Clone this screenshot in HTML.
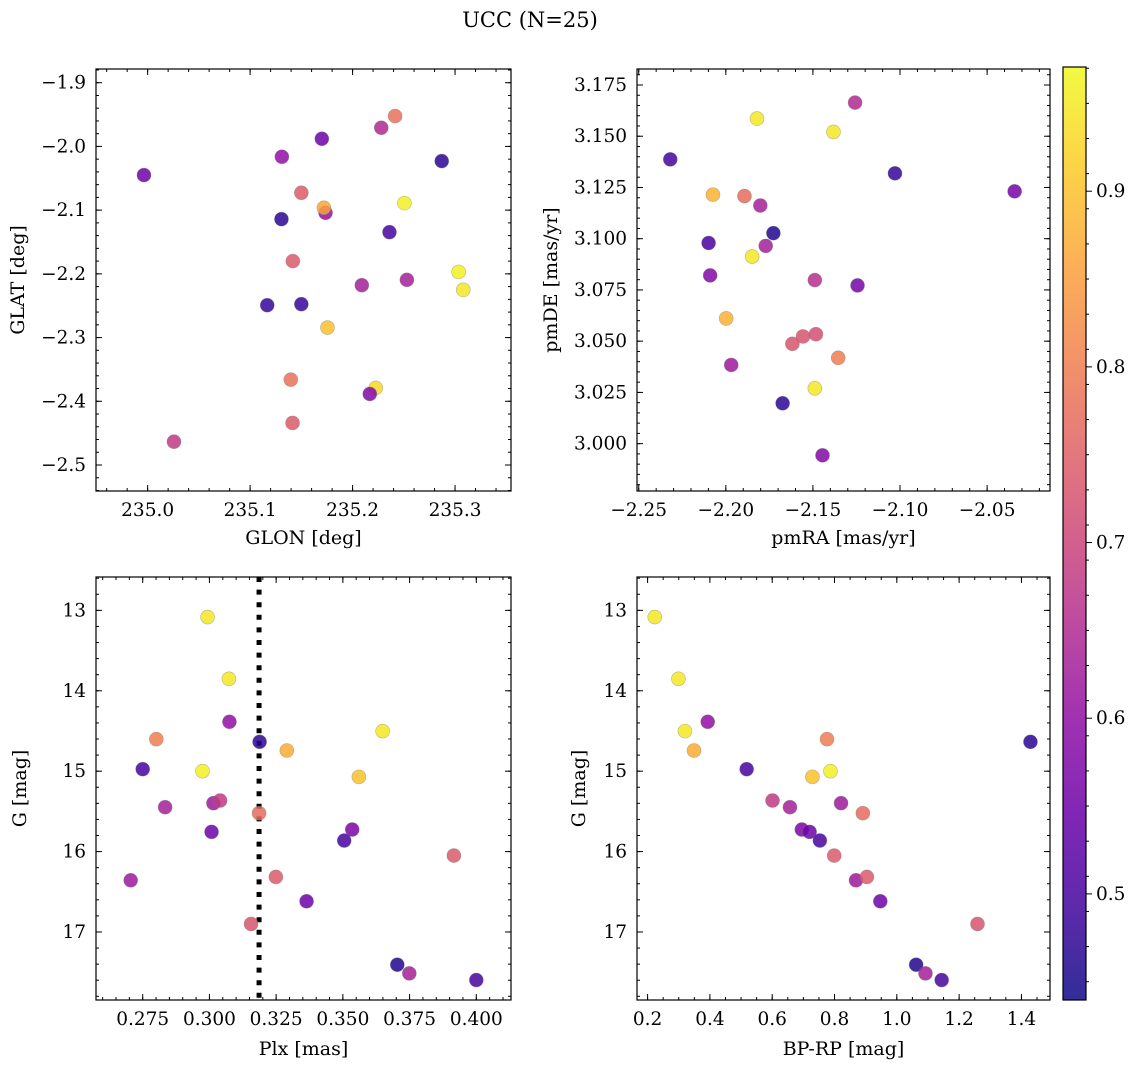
<!DOCTYPE html>
<html><head><meta charset="utf-8">
<style>
html,body{margin:0;padding:0;background:#fff;}
svg{display:block;font-family:"DejaVu Serif","Liberation Serif",serif;}
</style></head>
<body>
<svg id="fig" width="1136" height="1067" viewBox="0 0 1136 1067" xmlns="http://www.w3.org/2000/svg">
<text x="530" y="27" font-size="21" text-anchor="middle">UCC (N=25)</text>
</svg>
<script>
// ---- data ----
const glon = [234.9964,235.0257,235.131,235.170,235.228,235.2415,235.287,235.150,235.1736,235.172,235.2506,235.1306,235.236,235.1417,235.3035,235.308,235.209,235.253,235.1167,235.150,235.1755,235.1397,235.2226,235.2168,235.1414];
const glat = [-2.045,-2.4634,-2.0162,-1.988,-1.9707,-1.9524,-2.023,-2.0728,-2.1042,-2.0963,-2.089,-2.1141,-2.1346,-2.180,-2.1969,-2.2251,-2.2178,-2.2094,-2.2492,-2.2476,-2.2843,-2.366,-2.379,-2.3885,-2.434];
const probTL = [0.55,0.68,0.60,0.55,0.65,0.78,0.47,0.74,0.60,0.86,0.96,0.47,0.50,0.74,0.96,0.95,0.63,0.63,0.48,0.48,0.90,0.78,0.93,0.58,0.74];

const pmra = [-2.2319,-2.1821,-2.1382,-2.1258,-2.1029,-2.0342,-2.2074,-2.1893,-2.1802,-2.1727,-2.2099,-2.1771,-2.1849,-2.209,-2.1489,-2.1244,-2.1998,-2.1618,-2.1557,-2.1483,-2.1355,-2.1969,-2.1489,-2.1674,-2.1445];
const pmde = [3.1387,3.1586,3.1521,3.1664,3.1319,3.1231,3.1215,3.1208,3.1162,3.1027,3.0979,3.0965,3.0913,3.0821,3.0798,3.0772,3.0611,3.0487,3.0523,3.0534,3.0419,3.0384,3.0270,3.0197,2.9943];
const probTR = [0.50,0.95,0.95,0.65,0.48,0.56,0.88,0.77,0.63,0.46,0.50,0.63,0.95,0.58,0.66,0.56,0.88,0.73,0.73,0.72,0.80,0.62,0.95,0.47,0.58];

const plx = [0.2993,0.3073,0.3075,0.2801,0.3188,0.3290,0.3649,0.2750,0.2974,0.3560,0.2834,0.3015,0.3040,0.3186,0.3008,0.3535,0.3505,0.3916,0.2705,0.3249,0.3364,0.3156,0.3704,0.3749,0.4000];
const gmagBL = [13.083,13.851,14.386,14.602,14.635,14.743,14.502,14.975,15.000,15.071,15.448,15.398,15.365,15.523,15.755,15.726,15.863,16.050,16.357,16.315,16.618,16.900,17.407,17.515,17.598];
const probBL = [0.95,0.95,0.60,0.80,0.47,0.87,0.95,0.50,0.96,0.90,0.63,0.62,0.68,0.77,0.55,0.57,0.50,0.74,0.62,0.74,0.55,0.73,0.46,0.63,0.50];
const plxMedian = [0.3186];

const bprp = [0.223,0.299,0.393,0.320,0.349,0.776,1.429,0.518,0.787,0.729,0.601,0.657,0.821,0.891,0.695,0.720,0.753,0.799,0.869,0.904,0.947,1.259,1.062,1.092,1.144];
const gmagBR = [13.083,13.851,14.386,14.502,14.743,14.602,14.635,14.975,15.000,15.071,15.365,15.448,15.398,15.523,15.726,15.755,15.863,16.050,16.357,16.315,16.618,16.900,17.407,17.515,17.598];
const probBR = [0.95,0.95,0.60,0.95,0.87,0.80,0.47,0.50,0.96,0.90,0.68,0.63,0.62,0.77,0.57,0.55,0.50,0.74,0.62,0.74,0.55,0.73,0.46,0.63,0.50];

const cbTicks = [0.5,0.6,0.7,0.8,0.9];
const cbMin = 0.4396, cbMax = 0.9707;

// ---- helpers ----
const NS = "http://www.w3.org/2000/svg";
const svg = document.getElementById('fig');
function mk(tag, attrs, parent){
  const e = document.createElementNS(NS, tag);
  for (const k in attrs) e.setAttribute(k, attrs[k]);
  (parent||svg).appendChild(e);
  return e;
}
const stops = [[13,8,135],[65,4,157],[106,0,168],[143,13,164],[177,42,144],[204,71,120],[225,100,98],[242,132,75],[252,166,54],[252,206,37],[240,249,33]];
function plasma(t){
  t = Math.max(0, Math.min(1, t));
  const f = t*10, i = Math.min(9, Math.floor(f)), r = f - i;
  const a = stops[i], b = stops[i+1];
  return 'rgb(' + [0,1,2].map(k => Math.round(a[k] + (b[k]-a[k])*r)).join(',') + ')';
}
function cmap(v){ return plasma((v - cbMin)/(cbMax - cbMin)); }
function fmt(v, d){ return v.toFixed(d).replace('-', '\u2212'); }
const TF = 18.5, LF = 19;

function panel(o){
  const g = mk('g', {});
  
  
  const X = v => o.L + (v - o.x0)/(o.x1 - o.x0)*(o.R - o.L);
  const Y = v => o.B - (v - o.y0)/(o.y1 - o.y0)*(o.B - o.T);
  const eps = 1e-9;
  function ticks(a0, a1, step){
    const out = []; const lo = Math.min(a0,a1), hi = Math.max(a0,a1);
    for (let k = Math.ceil(lo/step - eps); k*step <= hi + eps; k++) out.push(k*step);
    return out;
  }
  const tg = mk('g', {stroke:'#000','stroke-width':1}, g);
  
  
  ticks(o.x0, o.x1, o.xminor).forEach(v => { const x = X(v);
    mk('line',{x1:x,x2:x,y1:o.B,y2:o.B-3},tg); mk('line',{x1:x,x2:x,y1:o.T,y2:o.T+3},tg); });
  ticks(o.y0, o.y1, o.yminor).forEach(v => { const y = Y(v);
    mk('line',{x1:o.L,x2:o.L+3,y1:y,y2:y},tg); mk('line',{x1:o.R,x2:o.R-3,y1:y,y2:y},tg); });
  ticks(o.x0, o.x1, o.xmajor).forEach(v => { const x = X(v);
    mk('line',{x1:x,x2:x,y1:o.B,y2:o.B-6},tg); mk('line',{x1:x,x2:x,y1:o.T,y2:o.T+6},tg);
    const t = mk('text',{x:x,y:o.B+25,'font-size':TF,'text-anchor':'middle',stroke:'none'},g);
    t.textContent = fmt(v, o.xd);
    
    
  });
  ticks(o.y0, o.y1, o.ymajor).forEach(v => { const y = Y(v);
    mk('line',{x1:o.L,x2:o.L+6,y1:y,y2:y},tg); mk('line',{x1:o.R,x2:o.R-6,y1:y,y2:y},tg);
    const t = mk('text',{x:o.L-10,y:y+6,'font-size':TF,'text-anchor':'end'},g);
    t.textContent = fmt(v, o.yd);
    
    
  });
  if (o.vline){
    o.vline.forEach(v => {
      const l = mk('line',{x1:X(v),x2:X(v),y1:o.T,y2:o.B,stroke:'#000','stroke-width':5,'stroke-dasharray':'5 7.6'},g);
      
      
    });
  }
  const pg = mk('g', {}, g);
  
  
  o.xs.forEach((xv, i) => {
    const c = mk('circle',{cx:X(xv),cy:Y(o.ys[i]),r:7,fill:cmap(o.cs[i]),'fill-opacity':0.85,stroke:'#777','stroke-opacity':0.5,'stroke-width':0.6},pg);
    
    
  });
  const f = mk('rect',{x:o.L,y:o.T,width:o.R-o.L,height:o.B-o.T,fill:'none',stroke:'#000','stroke-width':1.2},g);
  
  
  const xl = mk('text',{x:(o.L+o.R)/2,y:o.B+o.xlabOff,'font-size':LF,'text-anchor':'middle'},g);
  xl.textContent = o.xlabel;
  
  
  const yx = o.L - o.ylabOff, yy = (o.T+o.B)/2;
  const yl = mk('text',{x:yx,y:yy,'font-size':LF,'text-anchor':'middle',transform:`rotate(-90 ${yx} ${yy})`},g);
  yl.textContent = o.ylabel;
  
  
}

panel({name:'glon-glat-panel',L:96,R:511,T:69,B:491,x0:234.9496,x1:235.3546,y0:-2.5408,y1:-1.8785,
  xmajor:0.1,xminor:0.02,ymajor:0.1,yminor:0.02,xd:1,yd:1,xs:glon,ys:glat,cs:probTL,
  xlabel:'GLON [deg]',ylabel:'GLAT [deg]',ylabOff:72,xlabOff:53});
panel({name:'pm-panel',L:637,R:1050,T:69,B:491,x0:-2.251,x1:-2.0139,y0:2.9769,y1:3.1828,
  xmajor:0.05,xminor:0.01,ymajor:0.025,yminor:0.005,xd:2,yd:3,xs:pmra,ys:pmde,cs:probTR,
  xlabel:'pmRA [mas/yr]',ylabel:'pmDE [mas/yr]',ylabOff:80,xlabOff:53});
panel({name:'plx-g-panel',L:96,R:511,T:577,B:1000,x0:0.2575,x1:0.413,y0:17.846,y1:12.585,
  xmajor:0.025,xminor:0.005,ymajor:1,yminor:0.2,xd:3,yd:0,xs:plx,ys:gmagBL,cs:probBL,vline:plxMedian,
  xlabel:'Plx [mas]',ylabel:'G [mag]',ylabOff:70,xlabOff:55});
panel({name:'cmd-panel',L:637,R:1050,T:577,B:1000,x0:0.166,x1:1.4917,y0:17.846,y1:12.585,
  xmajor:0.2,xminor:0.05,ymajor:1,yminor:0.2,xd:1,yd:0,xs:bprp,ys:gmagBR,cs:probBR,
  xlabel:'BP-RP [mag]',ylabel:'G [mag]',ylabOff:52,xlabOff:55});

// colorbar
(function(){
  const L=1063,R=1086,T=67,B=1000;
  const g = mk('g',{});
  
  
  const defs = mk('defs',{},g);
  const lg = mk('linearGradient',{id:'cbg',x1:0,y1:1,x2:0,y2:0},defs);
  for (let i=0;i<=20;i++){ mk('stop',{offset:(i/20),'stop-color':plasma(i/20),'stop-opacity':0.85},lg); }
  mk('rect',{x:L,y:T,width:R-L,height:B-T,fill:'url(#cbg)'},g);
  const Y = v => B - (v-cbMin)/(cbMax-cbMin)*(B-T);
  for (let v = 0.45; v < cbMax; v += 0.02){ const y=Y(v); if (y>T && y<B) mk('line',{x1:R,x2:R+3,y1:y,y2:y,stroke:'#000'},g); }
  cbTicks.forEach(v => { const y = Y(v);
    mk('line',{x1:R,x2:R+6,y1:y,y2:y,stroke:'#000'},g);
    const t = mk('text',{x:R+10,y:y+6,'font-size':TF},g);
    t.textContent = v.toFixed(1);
    
    
  });
  mk('rect',{x:L,y:T,width:R-L,height:B-T,fill:'none',stroke:'#000','stroke-width':1.2},g);
})();
</script>
</body></html>
